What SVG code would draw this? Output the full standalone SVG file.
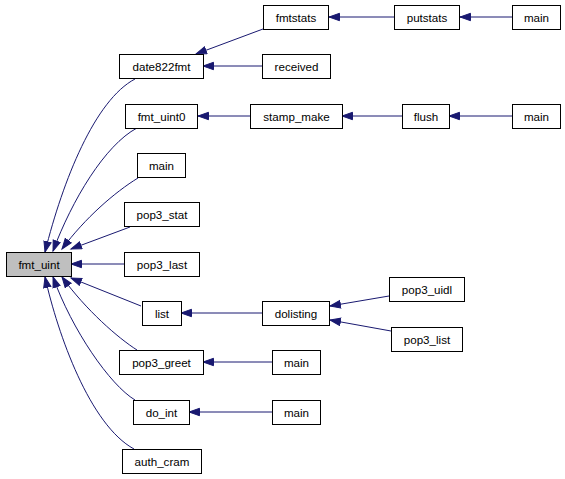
<svg xmlns="http://www.w3.org/2000/svg" width="565" height="479" viewBox="0 0 565 479">
<style>
.n rect{fill:#fff;stroke:#000;stroke-width:1}
.n text{font-family:"Liberation Sans",Arial,sans-serif;font-size:11.6px;text-anchor:middle;fill:#000}
#edges path{fill:none;stroke:#191970;stroke-width:1;marker-end:url(#ah)}
</style>
<defs>
<marker id="ah" markerUnits="userSpaceOnUse" markerWidth="13" markerHeight="10" refX="11" refY="4.5" orient="auto">
<path d="M0.5,0.8 L11,4.5 L0.5,8.2 z" fill="#191970" stroke="#191970"/>
</marker>
</defs>
<rect width="565" height="479" fill="#fff"/>
<g id="edges">
<path d="M394,17 L329,17"/>
<path d="M512,17 L460,17"/>
<path d="M263,29 L196,54"/>
<path d="M262,66 L203,66"/>
<path d="M250,116 L198,116"/>
<path d="M402,116 L342,116"/>
<path d="M512,116 L449,116"/>
<path d="M135,79 C95,100 63,180 45,252"/>
<path d="M137,128 C105,145 72,200 53,251"/>
<path d="M138,178 C115,192 85,218 62,249"/>
<path d="M130,227 L71,249"/>
<path d="M124,264 L71,264"/>
<path d="M141,306 L71,278"/>
<path d="M262,313 L181,313"/>
<path d="M389,296 L330,306"/>
<path d="M391,331 L330,320"/>
<path d="M137,350 C118,338 86,310 62,277"/>
<path d="M272,362 L203,362"/>
<path d="M135,400 C110,385 72,330 53,277"/>
<path d="M272,412 L189,412"/>
<path d="M134,449 C90,425 58,335 45,277"/>
</g>
<g id="fmtstats" class="n"><rect x="263.5" y="5.5" width="65" height="24"/><text x="296" y="21.5">fmtstats</text></g>
<g id="putstats" class="n"><rect x="394.5" y="5.5" width="65" height="24"/><text x="427" y="21.5">putstats</text></g>
<g id="main1" class="n"><rect x="512.5" y="5.5" width="48" height="24"/><text x="536.5" y="21.5">main</text></g>
<g id="date822fmt" class="n"><rect x="119.5" y="54.5" width="84" height="24"/><text x="161.5" y="70.5">date822fmt</text></g>
<g id="received" class="n"><rect x="262.5" y="54.5" width="68" height="24"/><text x="296.5" y="70.5">received</text></g>
<g id="fmt_uint0" class="n"><rect x="125.5" y="104.5" width="72" height="24"/><text x="161.5" y="120.5">fmt_uint0</text></g>
<g id="stamp_make" class="n"><rect x="250.5" y="104.5" width="92" height="24"/><text x="296.5" y="120.5">stamp_make</text></g>
<g id="flush" class="n"><rect x="402.5" y="104.5" width="47" height="24"/><text x="426" y="120.5">flush</text></g>
<g id="main2" class="n"><rect x="512.5" y="104.5" width="48" height="24"/><text x="536.5" y="120.5">main</text></g>
<g id="main3" class="n"><rect x="137.5" y="153.5" width="48" height="24"/><text x="161.5" y="169.5">main</text></g>
<g id="pop3_stat" class="n"><rect x="124.5" y="202.5" width="75" height="24"/><text x="162" y="218.5">pop3_stat</text></g>
<g id="fmt_uint" class="n"><rect x="6.5" y="252.5" width="65" height="24" style="fill:#bfbfbf"/><text x="39" y="268.5">fmt_uint</text></g>
<g id="pop3_last" class="n"><rect x="124.5" y="252.5" width="75" height="24"/><text x="162" y="268.5">pop3_last</text></g>
<g id="list" class="n"><rect x="142.5" y="301.5" width="39" height="24"/><text x="162" y="317.5">list</text></g>
<g id="dolisting" class="n"><rect x="262.5" y="301.5" width="67" height="24"/><text x="296" y="317.5">dolisting</text></g>
<g id="pop3_uidl" class="n"><rect x="389.5" y="277.5" width="75" height="24"/><text x="427" y="293.5">pop3_uidl</text></g>
<g id="pop3_list" class="n"><rect x="391.5" y="327.5" width="71" height="24"/><text x="427" y="343.5">pop3_list</text></g>
<g id="pop3_greet" class="n"><rect x="119.5" y="350.5" width="84" height="24"/><text x="161.5" y="366.5">pop3_greet</text></g>
<g id="main4" class="n"><rect x="272.5" y="350.5" width="48" height="24"/><text x="296.5" y="366.5">main</text></g>
<g id="do_int" class="n"><rect x="133.5" y="400.5" width="56" height="24"/><text x="161.5" y="416.5">do_int</text></g>
<g id="main5" class="n"><rect x="272.5" y="400.5" width="48" height="24"/><text x="296.5" y="416.5">main</text></g>
<g id="auth_cram" class="n"><rect x="122.5" y="449.5" width="79" height="24"/><text x="162" y="465.5">auth_cram</text></g>
</svg>
